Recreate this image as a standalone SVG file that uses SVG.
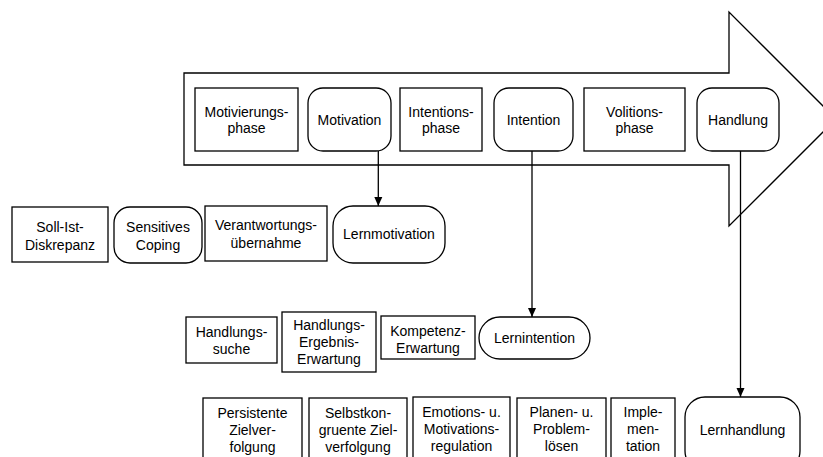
<svg xmlns="http://www.w3.org/2000/svg" width="823" height="457" viewBox="0 0 823 457">
<defs>
<style>
.b{fill:#fff;stroke:#000;stroke-width:1.3}
.t{font-family:"Liberation Sans",Arial,sans-serif;font-size:14px;fill:#000;text-anchor:middle}
.c{fill:none;stroke:#000;stroke-width:1.3}
</style>
<marker id="ah" markerUnits="userSpaceOnUse" markerWidth="10" markerHeight="10" viewBox="0 0 10 10" refX="9" refY="5" orient="auto">
<path d="M0,1 L9,5 L0,9 z" fill="#000"/>
</marker>
</defs>
<rect width="823" height="457" fill="#fff"/>
<g id="bigarrow">
<polygon class="b" points="184,73 729,73 729,12 836,119 729,226 729,165 184,165"/>
</g>
<g id="n-motivierungsphase"><rect class="b" x="195" y="88" width="103" height="63"/><text class="t" x="246.5" y="117">Motivierungs-</text><text class="t" x="246.5" y="133">phase</text></g>
<g id="n-motivation"><rect class="b" x="308" y="88" width="83" height="63" rx="15"/><text class="t" x="349.5" y="125">Motivation</text></g>
<g id="n-intentionsphase"><rect class="b" x="400" y="88" width="82" height="63"/><text class="t" x="441" y="117">Intentions-</text><text class="t" x="441" y="133">phase</text></g>
<g id="n-intention"><rect class="b" x="494" y="88" width="79" height="63" rx="15"/><text class="t" x="533.5" y="125">Intention</text></g>
<g id="n-volitionsphase"><rect class="b" x="584" y="88" width="101" height="63"/><text class="t" x="634.5" y="117">Volitions-</text><text class="t" x="634.5" y="133">phase</text></g>
<g id="n-handlung"><rect class="b" x="697" y="88" width="82" height="63" rx="15"/><text class="t" x="738" y="125">Handlung</text></g>

<g id="n-sollist"><rect class="b" x="12" y="207" width="96" height="55"/><text class="t" x="60" y="231.5">Soll-Ist-</text><text class="t" x="60" y="249.5">Diskrepanz</text></g>
<g id="n-coping"><rect class="b" x="114" y="207" width="88" height="56" rx="16"/><text class="t" x="158" y="231.5">Sensitives</text><text class="t" x="158" y="249.5">Coping</text></g>
<g id="n-verantwortung"><rect class="b" x="205" y="206" width="122" height="55"/><text class="t" x="266" y="230">Verantwortungs-</text><text class="t" x="266" y="248">übernahme</text></g>
<g id="n-lernmotivation"><rect class="b" x="333" y="206" width="112" height="57" rx="20"/><text class="t" x="389" y="239">Lernmotivation</text></g>

<g id="n-handlungssuche"><rect class="b" x="186" y="317" width="91" height="46"/><text class="t" x="231.5" y="336.5">Handlungs-</text><text class="t" x="231.5" y="353.5">suche</text></g>
<g id="n-hee"><rect class="b" x="282" y="312" width="94" height="60"/><text class="t" x="329" y="329.5">Handlungs-</text><text class="t" x="329" y="346.5">Ergebnis-</text><text class="t" x="329" y="363.5">Erwartung</text></g>
<g id="n-kompetenz"><rect class="b" x="381" y="316" width="94" height="43"/><text class="t" x="428" y="336">Kompetenz-</text><text class="t" x="428" y="353">Erwartung</text></g>
<g id="n-lernintention"><rect class="b" x="479" y="317" width="111" height="42" rx="21"/><text class="t" x="534.5" y="343">Lernintention</text></g>

<g id="n-persistente"><rect class="b" x="203" y="398" width="99" height="73"/><text class="t" x="252.5" y="417.5">Persistente</text><text class="t" x="252.5" y="434.5">Zielver-</text><text class="t" x="252.5" y="451.5">folgung</text></g>
<g id="n-selbstkon"><rect class="b" x="309" y="398" width="98" height="73"/><text class="t" x="358" y="417.5">Selbstkon-</text><text class="t" x="358" y="434.5">gruente Ziel-</text><text class="t" x="358" y="451.5">verfolgung</text></g>
<g id="n-emotions"><rect class="b" x="413" y="397" width="97" height="74"/><text class="t" x="461.5" y="416.5">Emotions- u.</text><text class="t" x="461.5" y="433.5">Motivations-</text><text class="t" x="461.5" y="450.5">regulation</text></g>
<g id="n-planen"><rect class="b" x="517" y="398" width="89" height="73"/><text class="t" x="561.5" y="417">Planen- u.</text><text class="t" x="561.5" y="434">Problem-</text><text class="t" x="561.5" y="451">lösen</text></g>
<g id="n-imple"><rect class="b" x="611" y="398" width="64" height="73"/><text class="t" x="643" y="417">Imple-</text><text class="t" x="643" y="434">men-</text><text class="t" x="643" y="451">tation</text></g>
<g id="n-lernhandlung"><rect class="b" x="685" y="397" width="115" height="74" rx="20"/><text class="t" x="742.5" y="435">Lernhandlung</text></g>

<g id="connectors">
<line class="c" x1="378.3" y1="151" x2="378.3" y2="206" marker-end="url(#ah)"/>
<line class="c" x1="532" y1="151" x2="532" y2="317" marker-end="url(#ah)"/>
<line class="c" x1="740.5" y1="151" x2="740.5" y2="397" marker-end="url(#ah)"/>
</g>
</svg>
